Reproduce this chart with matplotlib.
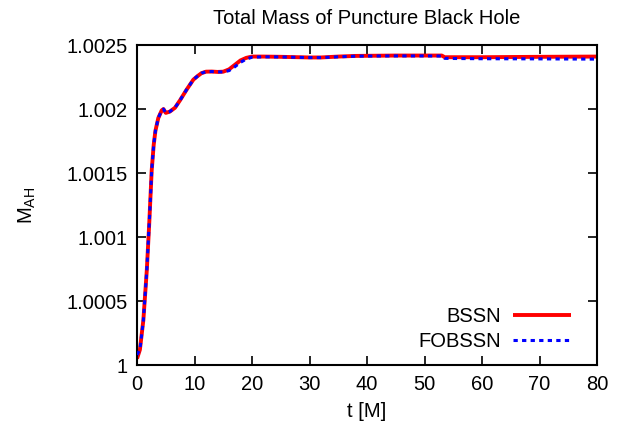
import matplotlib
matplotlib.use("Agg")
import matplotlib.pyplot as plt
from matplotlib.ticker import FuncFormatter

plt.rcParams['font.family'] = ['Liberation Sans', 'DejaVu Sans']
plt.rcParams['mathtext.default'] = 'regular'

# BSSN run
t_bssn = [0, 0.5, 1.1, 1.7, 2.15, 2.55, 2.9, 3.2, 3.7, 4.3, 4.6, 5.0, 5.7,
          6.6, 7.5, 8.6, 9.8, 10.6, 11.2, 12.0, 13.0, 14.0, 15.0, 16.0, 17.0,
          18.0, 19.0, 20.0, 22, 25, 28, 30, 32, 35, 38, 40, 45, 50, 53,
          53.5, 55, 60, 70, 80]
m_bssn = [1.00005, 1.00012, 1.00035, 1.00074, 1.00113, 1.00152, 1.00172,
          1.00183, 1.00193, 1.00199, 1.00200, 1.00197, 1.00198, 1.00201,
          1.00207, 1.00215, 1.00223, 1.00226, 1.00228, 1.002292, 1.002293,
          1.00229, 1.002292, 1.00231, 1.002345, 1.00238, 1.002400, 1.002410,
          1.002410, 1.002408, 1.002405, 1.002403, 1.002403, 1.002410,
          1.002415, 1.002416, 1.002418, 1.002418, 1.002418, 1.002405,
          1.002405, 1.002405, 1.002408, 1.002410]

# FOBSSN run
t_fobssn = [0, 0.5, 1.1, 1.7, 2.15, 2.55, 2.9, 3.2, 3.7, 4.3, 4.6, 5.0, 5.7,
            6.6, 7.5, 8.6, 9.8, 10.6, 11.2, 12.0, 13.0, 14.0, 15.0, 16.0, 17.0,
            18.0, 19.0, 20.0, 22, 25, 28, 30, 32, 35, 38, 40, 45, 50, 53,
            53.5, 55, 60, 70, 80]
m_fobssn = [1.00008, 1.00012, 1.00035, 1.00074, 1.00113, 1.00152, 1.00172,
            1.00183, 1.00193, 1.00199, 1.00200, 1.00197, 1.00198, 1.00201,
            1.00207, 1.00215, 1.00223, 1.00226, 1.00228, 1.002292, 1.002293,
            1.00229, 1.002290, 1.00230, 1.00233, 1.002365, 1.002390, 1.002405,
            1.002408, 1.002407, 1.002404, 1.002402, 1.002402, 1.002408,
            1.002413, 1.002414, 1.002415, 1.002415, 1.002414, 1.002396,
            1.002395, 1.002393, 1.002392, 1.002390]

x_ticks = [0, 10, 20, 30, 40, 50, 60, 70, 80]
y_ticks = [1.0, 1.0005, 1.001, 1.0015, 1.002, 1.0025]

fs = 14.5

fig = plt.figure(figsize=(6.2, 4.29), dpi=100)
ax = fig.add_axes([0.221, 0.149, 0.742, 0.746])

ax.plot(t_bssn, m_bssn, color='#ff0000', linewidth=2.8, label='BSSN',
        solid_capstyle='butt', zorder=2)
ax.plot(t_fobssn, m_fobssn, color='#0000ff', linewidth=2.2,
        linestyle=(0, (1.4, 1.4)), label='FOBSSN', zorder=3)

ax.set_xlim(0, 80)
ax.set_ylim(1.0, 1.0025)
ax.set_xticks(x_ticks)
ax.set_yticks(y_ticks)
ax.yaxis.set_major_formatter(FuncFormatter(lambda v, p: '%g' % round(v, 6)))

ax.tick_params(direction='in', length=6.5, width=1.2, top=True, right=True,
               labelsize=fs, pad=7)
for sp in ax.spines.values():
    sp.set_linewidth(1.5)

ax.set_title('Total Mass of Puncture Black Hole', fontsize=14.5, pad=15)
ax.set_xlabel('t [M]', fontsize=fs, labelpad=6)
ax.set_ylabel('M$_{AH}$', fontsize=fs, labelpad=20)

ax.legend(loc='lower right', frameon=False, markerfirst=False, fontsize=fs,
          handlelength=2.9, handletextpad=0.6, labelspacing=0.3,
          borderaxespad=0.3, bbox_to_anchor=(0.975, 0.0))

fig.savefig('out.png', dpi=100)
